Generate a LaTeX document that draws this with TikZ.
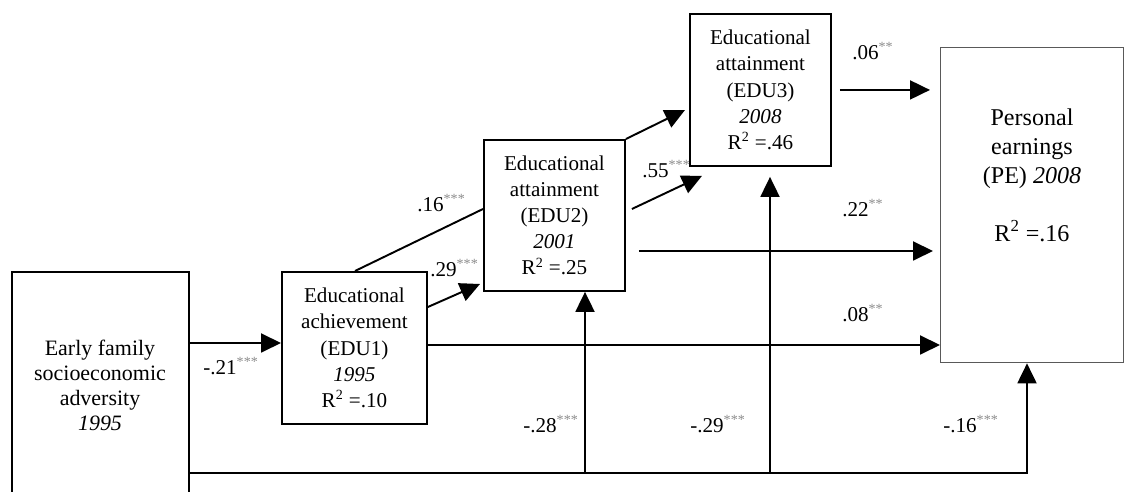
\documentclass[tikz,border=0pt]{standalone}
\usepackage{fontspec}
\setmainfont{Liberation Serif}
\usetikzlibrary{arrows.meta,calc}
\newcommand\starsup[1]{\textsuperscript{\color{black!45}#1}}
\begin{document}
\begin{tikzpicture}[x=0.02cm,y=-0.02cm,
  box/.style={draw,line width=1.1pt,inner sep=0pt,anchor=north west,align=center,font=\fontsize{12}{14.9}\selectfont},
  arr/.style={line width=1.1pt,-{Triangle[length=0.4cm,width=0.38cm]}},
  ln/.style={line width=1.1pt},
  lab/.style={inner sep=0pt,anchor=mid west,font=\fontsize{12}{14}\selectfont}]
\useasboundingbox (0,0) rectangle (1126,492);
\fill[white] (0,0) rectangle (1126,492);

\node[box,minimum width=3.54cm,minimum height=4.98cm] (A) at (11,271) {};
\node[align=center,inner sep=0pt,font=\fontsize{12.5}{14.2}\selectfont] (Atext) at (100,385) {Early family\\socioeconomic\\adversity\\\textit{1995}};

\node[box,minimum width=2.9cm,minimum height=3.04cm] (E1) at (281,271) {Educational\\achievement\\(EDU1)\\\textit{1995}\\R\textsuperscript{2} =.10};
\node[box,minimum width=2.82cm,minimum height=3.02cm] (E2) at (483,139) {Educational\\attainment\\(EDU2)\\\textit{2001}\\R\textsuperscript{2} =.25};
\node[box,minimum width=2.82cm,minimum height=3.04cm] (E3) at (689,13) {Educational\\attainment\\(EDU3)\\\textit{2008}\\R\textsuperscript{2} =.46};
\node[box,draw=black!65,line width=0.8pt,minimum width=3.66cm,minimum height=6.3cm] (PE) at (940,47) {};
\node[align=center,inner sep=0pt,font=\fontsize{13.7}{16.5}\selectfont] (PEtext) at (1032,175) {Personal\\earnings\\(PE) \textit{2008}\\[16.5pt]R\textsuperscript{2} =.16};

\coordinate (lvA) at (0,343);
\coordinate (lv22) at (0,251);
\coordinate (lv08) at (0,345);
\coordinate (bot) at (0,473);
\coordinate (j1) at (585,473);
\coordinate (j2) at (770,473);
\coordinate (j3) at (1027,473);

\draw[arr] (A.east |- lvA) -- (E1.west |- lvA);
\draw[ln] ($(E1.north west)+(74,0)$) -- ($(E2.north west)+(0,70)$);
\draw[arr] ($(E1.north east)+(0,36)$) -- ($(E2.north west)+(-3,145)$);
\draw[arr] (E2.north east) -- ($(E3.north west)+(-4,97)$);
\draw[arr] ($(E2.north east)+(6,70)$) -- ($(E3.south west)+(13,9)$);
\draw[arr,shorten <=0.16cm,shorten >=0.2cm] (E3.east) -- (E3.east -| PE.west);
\draw[arr,shorten >=0.14cm] ($(E2.east |- lv22)+(13,0)$) -- (PE.west |- lv22);
\draw[arr] (E1.east |- lv08) -- (PE.west |- lv08);
\draw[arr] (A.east |- bot) -| (PE.south -| j3);
\draw[arr] (j1) -- (j1 |- E2.south);
\draw[arr,shorten >=0.2cm] (j2) -- (j2 |- E3.south);

\node[lab] (l21) at (203,370) {-.21\starsup{***}};
\node[lab] (l16) at (417,207) {.16\starsup{***}};
\node[lab] (l29) at (430,272) {.29\starsup{***}};
\node[lab] (l55) at (642,173) {.55\starsup{***}};
\node[lab] (l06) at (852,55) {.06\starsup{**}};
\node[lab] (l22) at (842,212) {.22\starsup{**}};
\node[lab] (l08) at (842,317) {.08\starsup{**}};
\node[lab] (l28) at (523,428) {-.28\starsup{***}};
\node[lab] (l29b) at (690,428) {-.29\starsup{***}};
\node[lab] (l16b) at (943,428) {-.16\starsup{***}};
\end{tikzpicture}
\end{document}
